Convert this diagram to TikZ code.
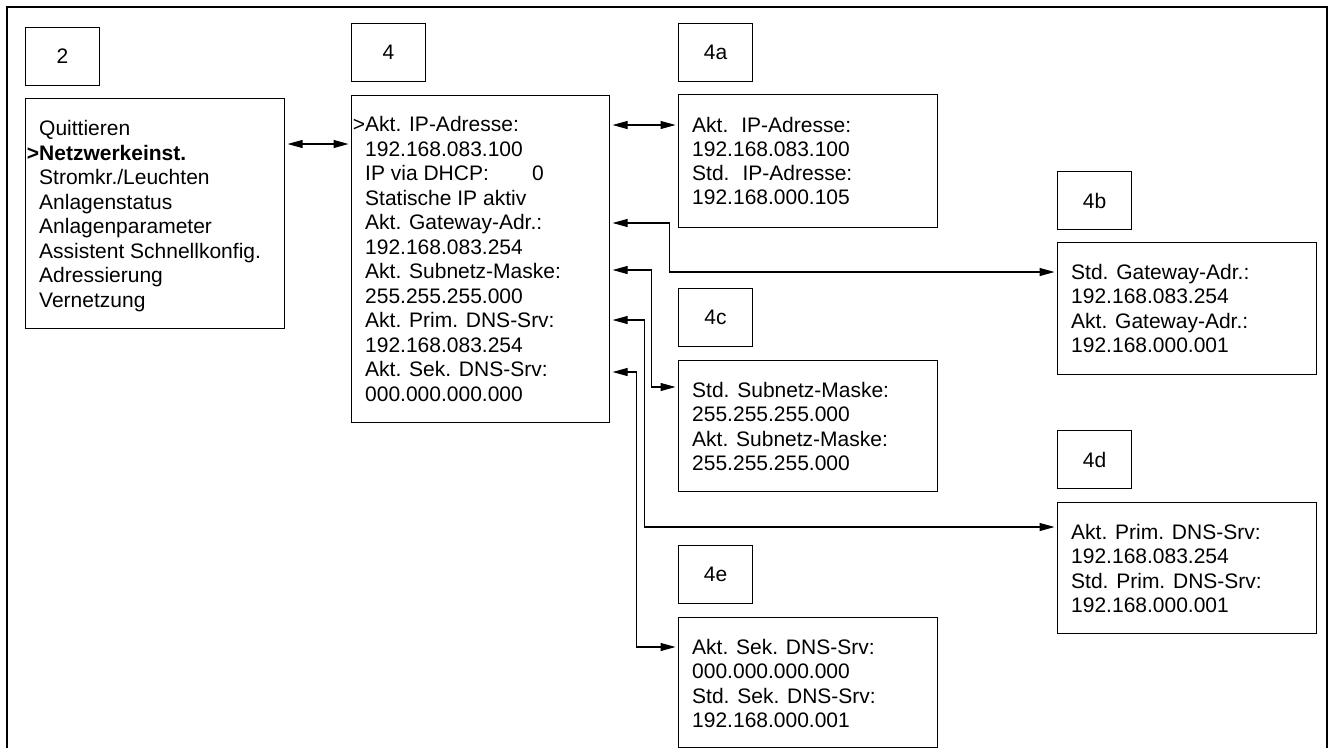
\documentclass[tikz,border=0pt]{standalone}
\usepackage{fontspec}
\setmainfont{Liberation Sans}
\usetikzlibrary{arrows.meta,calc}
\begin{document}
\begin{tikzpicture}[x=1pt,y=-1pt,
  box/.style={draw,line width=1.1pt,inner sep=0pt,anchor=north west},
  lbl/.style={box,anchor=north west,minimum width=74pt,minimum height=58pt,font=\fontsize{21}{24}\selectfont},
  ln/.style={anchor=base west,inner sep=0pt,font=\fontsize{21}{24}\selectfont},
  con/.style={line width=1.1pt,{Triangle[length=15pt,width=8pt]}-{Triangle[length=15pt,width=8pt]},shorten <=2.5pt,shorten >=2.5pt}]
\useasboundingbox (0,0) rectangle (1336,748);
\draw[line width=2.5pt] (7,748) -- (7,7) -- (1327,7) -- (1327,748);

% label boxes
\node[lbl] (l2)  at (25,27)   {2};
\node[lbl] (l4)  at (351,23)  {4};
\node[lbl] (l4a) at (678,23)  {4a};
\node[lbl] (l4b) at (1057,171) {4b};
\node[lbl] (l4c) at (678,288) {4c};
\node[lbl] (l4d) at (1057,430) {4d};
\node[lbl] (l4e) at (678,545) {4e};

% main boxes
\node[box,minimum width=259pt,minimum height=230pt] (b2)  at (25,98)   {};
\node[box,minimum width=258pt,minimum height=327pt] (b4)  at (351,95)  {};
\node[box,minimum width=259pt,minimum height=133pt] (b4a) at (678,94)  {};
\node[box,minimum width=259pt,minimum height=132pt] (b4b) at (1057,242) {};
\node[box,minimum width=259pt,minimum height=131pt] (b4c) at (678,360) {};
\node[box,minimum width=259pt,minimum height=131pt] (b4d) at (1057,502) {};
\node[box,minimum width=259pt,minimum height=130pt] (b4e) at (678,617) {};

% texts
\foreach \t [count=\i from 0] in {Quittieren,{\bfseries\llap{>}Netzwerkeinst.},{Stromkr./Leuchten},Anlagenstatus,Anlagenparameter,Assistent Schnellkonfig.,Adressierung,Vernetzung}
  \node[ln] (t2-\i) at ($(b2.north west)+(14,37.8+\i*24.5)$) {\t};
\foreach \t [count=\i from 0] in {{\llap{>}Akt. IP-Adresse:},192.168.083.100,{\makebox[167pt][l]{IP via DHCP:}0},Statische IP aktiv,Akt. Gateway-Adr.:,192.168.083.254,Akt. Subnetz-Maske:,255.255.255.000,Akt. Prim. DNS-Srv:,192.168.083.254,Akt. Sek. DNS-Srv:,000.000.000.000}
  \node[ln] (t4-\i) at ($(b4.north west)+(14,36.5+\i*24.5)$) {\t};
\foreach \t [count=\i from 0] in {{Akt.\hspace{13pt}IP-Adresse:},192.168.083.100,{Std.\hspace{13pt}IP-Adresse:},192.168.000.105}
  \node[ln] (t4a-\i) at ($(b4a.north west)+(14,38+\i*24.2)$) {\t};
\foreach \t [count=\i from 0] in {Std. Gateway-Adr.:,192.168.083.254,Akt. Gateway-Adr.:,192.168.000.001}
  \node[ln] (t4b-\i) at ($(b4b.north west)+(14,37.5+\i*24.4)$) {\t};
\foreach \t [count=\i from 0] in {Std. Subnetz-Maske:,255.255.255.000,Akt. Subnetz-Maske:,255.255.255.000}
  \node[ln] (t4c-\i) at ($(b4c.north west)+(14,37.5+\i*24.4)$) {\t};
\foreach \t [count=\i from 0] in {Akt. Prim. DNS-Srv:,192.168.083.254,Std. Prim. DNS-Srv:,192.168.000.001}
  \node[ln] (t4d-\i) at ($(b4d.north west)+(14,37.5+\i*24.4)$) {\t};
\foreach \t [count=\i from 0] in {Akt. Sek. DNS-Srv:,000.000.000.000,Std. Sek. DNS-Srv:,192.168.000.001}
  \node[ln] (t4e-\i) at ($(b4e.north west)+(14,37.5+\i*24.4)$) {\t};

% connectors
\draw[con] ([yshift=-46pt]b2.north east) -- ([yshift=-49pt]b4.north west);
\draw[con] ([yshift=-30pt]b4.north east) -- ([yshift=-31pt]b4a.north west);
\draw[con] ([yshift=-128pt]b4.north east) -- ++(59,0) |- ([yshift=-30pt]b4b.north west);
\draw[con] ([yshift=-175pt]b4.north east) -- ++(41,0) |- ([yshift=-27pt]b4c.north west);
\draw[con] ([yshift=-225pt]b4.north east) -- ++(34,0) |- ([yshift=-25pt]b4d.north west);
\draw[con] ([yshift=-277pt]b4.north east) -- ++(26,0) |- ([yshift=-30pt]b4e.north west);
\end{tikzpicture}
\end{document}
